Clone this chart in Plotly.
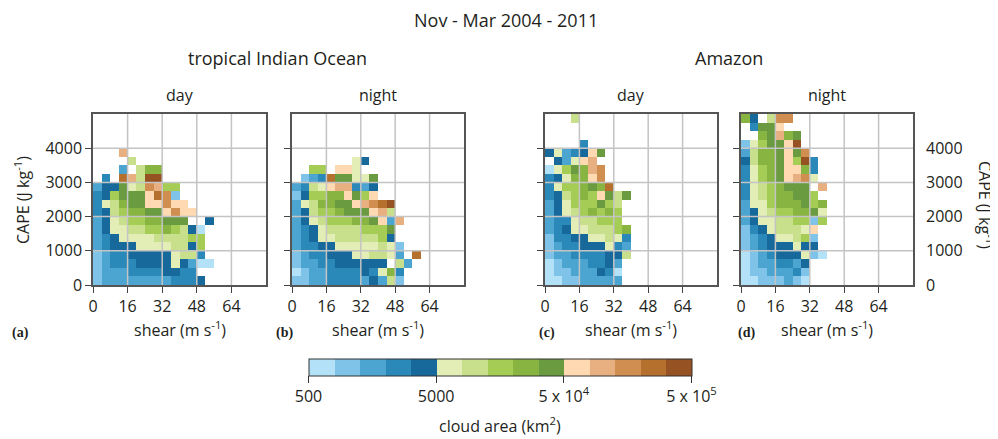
import math
import plotly.graph_objects as go

# ---------------- data ----------------
# shear bins (m s-1) and CAPE bins (J kg-1)
shear_edges = list(range(0, 84, 4))
cape_edges = list(range(0, 5250, 250))
shear_ticks = [0, 16, 32, 48, 64]
cape_ticks = [0, 1000, 2000, 3000, 4000]

# colour classes: 15 logarithmic classes of cloud area (km2), 500 .. 5e5
area_min, area_max = 500, 5e5
class_colors = ["#b3e2f8", "#7fc4e8", "#4ca5d1", "#2b89b9", "#17699b",
                "#e3edb6", "#c8df8c", "#a5cc55", "#88b441", "#6a9b40",
                "#fed9b1", "#e8b081", "#d18e51", "#b5702e", "#965223"]
cbar_tickvals = [500, 5000, 5e4, 5e5]
cbar_ticktext = ["500", "5000", "5 x 10<sup>4</sup>", "5 x 10<sup>5</sup>"]

# class index of each cell (top CAPE row first; '.' = no data; 1-9, a=10 .. f=15)
indian_day = [
    "", "", "", "",
    "...c",
    "....7",
    "...3.799",
    ".4.ec7ff",
    "355a67dc88",
    "458aaabed2",
    "4679aabbdbb",
    "457899aabdbb",
    "35678899aaa..5",
    "3566778898751",
    "3456666777788",
    "3455566667758",
    "2344555556774",
    "23444555565311",
    "233344445544",
    "2333333334445",
]
indian_night = [
    "", "", "", "", "",
    ".......65",
    "..88.bb6",
    ".234eaa66a",
    "3476bcc435",
    "258899ba8b",
    "36799aabcdef",
    "357889aaabc7",
    "356788899ab3c",
    "34567777888a",
    "345667777785",
    "3445566666762",
    "2344555667763.e",
    "23344555555.73",
    "1233444454694",
    "2233444435372",
]
amazon_day = [
    "...7",
    "", "",
    "....4",
    "56345ba",
    ".536bc",
    "168a9cd",
    "45699bd",
    "46889a9e",
    "457898ba7a",
    "356888a87",
    "356789898",
    "344677888",
    "3456677789",
    "2445566764",
    "2344555643",
    "2334444557",
    "123334453",
    "122333541",
    "112233333",
]
amazon_night = [
    "95.7dd",
    ".4aab",
    "..9ac9a",
    "268aabf",
    "3799abad",
    "5799ab8f4",
    "4689abb94",
    "4689abcd6",
    "46789aaa.c",
    "467899aa8",
    "3668999a89",
    "35678899a6",
    "3566778828",
    "24567776b",
    "234566782",
    "234555655",
    "1234555621",
    "12334435",
    "12233342",
    "11222321",
]

panels = [indian_day, indian_night, amazon_day, amazon_night]
panel_letters = ["(a)", "(b)", "(c)", "(d)"]
panel_titles = ["day", "night", "day", "night"]
region_titles = ["tropical Indian Ocean", "Amazon"]
main_title = "Nov - Mar 2004 - 2011"

# ---------------- layout helpers ----------------
# the page body has an 8 px margin, so the figure starts at (8, 8) of the window
OFF = 8
W, H = 998 - OFF, 439 - OFF
def px(x):
    return (x - OFF) / W
def py(y):
    return 1 - (y - OFF) / H

panel_px = [(93, 266), (292, 464), (545, 717), (741, 913)]
top_px, bot_px = 114, 285

lmin, lmax = math.log10(area_min), math.log10(area_max)
n_cls = len(class_colors)
cls_width = (lmax - lmin) / n_cls
colorscale = []
for k, c in enumerate(class_colors):
    colorscale.append([k / n_cls, c])
    colorscale.append([(k + 1) / n_cls, c])

shear_c = [(a + b) / 2 for a, b in zip(shear_edges[:-1], shear_edges[1:])]
cape_c = [(a + b) / 2 for a, b in zip(cape_edges[:-1], cape_edges[1:])]
nx = len(shear_c)

def to_z(rows):
    z = []
    for row in reversed(rows):
        r = row.ljust(nx, ".")
        line = []
        for ch in r:
            if ch == ".":
                line.append(None)
            else:
                k = int(ch, 16)
                line.append(lmin + (k - 0.5) * cls_width)
        z.append(line)
    return z

font_fam = "Open Sans, Noto Sans, sans-serif"
txt = "#231f20"

def note(x, y, text, size=16, angle=0, family=font_fam):
    fig.add_annotation(x=px(x), y=py(y), xref="paper", yref="paper", text=text,
                       xanchor="center", yanchor="middle", textangle=angle,
                       showarrow=False, font=dict(family=family, size=size, color=txt))

fig = go.Figure()
for n, rows in enumerate(panels):
    ax = "" if n == 0 else str(n + 1)
    fig.add_trace(go.Heatmap(
        x=shear_c, y=cape_c, z=to_z(rows),
        zmin=lmin, zmax=lmax, colorscale=colorscale,
        xaxis="x" + ax, yaxis="y" + ax, hoverongaps=False,
        showscale=(n == 0),
        colorbar=dict(
            orientation="h", x=px(500), xanchor="center",
            y=py(359), yanchor="top",
            len=383, lenmode="pixels", thickness=17, thicknessmode="pixels",
            xpad=0, ypad=0, outlinewidth=1, outlinecolor="#333",
            tickvals=[math.log10(v) for v in cbar_tickvals], ticktext=cbar_ticktext,
            ticks="outside", ticklen=7, tickcolor="#333",
            tickfont=dict(family=font_fam, size=16, color=txt),
        ),
    ))
    x0, x1 = panel_px[n]
    common = dict(showline=True, mirror=True, linecolor="#555", linewidth=1.5,
                  showgrid=False, zeroline=False, ticks="outside", ticklen=6,
                  tickcolor="#444", automargin=False,
                  tickfont=dict(family=font_fam, size=16, color=txt))
    fig.layout["xaxis" + ax] = dict(domain=[px(x0), px(x1)], range=[shear_edges[0], shear_edges[-1]],
                                     tickvals=shear_ticks, anchor="y" + ax, **common)
    fig.layout["yaxis" + ax] = dict(domain=[py(bot_px), py(top_px)], range=[cape_edges[0], cape_edges[-1]],
                                     tickvals=cape_ticks, anchor="x" + ax,
                                     showticklabels=(n == 0), **common)
    # grid lines drawn above the cells
    for t in shear_ticks[1:]:
        fig.add_shape(type="line", xref="x" + ax, yref="y" + ax + " domain",
                      x0=t, x1=t, y0=0, y1=1, line=dict(color="#c4c4c4", width=1.5), layer="above")
    for t in cape_ticks[1:]:
        fig.add_shape(type="line", xref="x" + ax + " domain", yref="y" + ax,
                      x0=0, x1=1, y0=t, y1=t, line=dict(color="#c4c4c4", width=1.5), layer="above")
    xc = (x0 + x1) / 2
    note(xc, 95, panel_titles[n])
    note(xc, 329, "shear (m s<sup>-1</sup>)")

letter_x = [20, 284, 547, 746]
for n, lx in enumerate(letter_x):
    note(lx, 333, "<b>" + panel_letters[n] + "</b>", size=14, family="Liberation Serif, serif")

# right-hand CAPE axis of panel (d)
fig.add_trace(go.Scatter(x=[None], y=[None], xaxis="x4", yaxis="y5", showlegend=False, hoverinfo="skip"))
fig.layout["yaxis5"] = dict(domain=[py(bot_px), py(top_px)], range=[cape_edges[0], cape_edges[-1]],
                            tickvals=cape_ticks, overlaying="y4", side="right", anchor="x4",
                            showgrid=False, zeroline=False, showline=False, ticks="",
                            ticklabelstandoff=12, automargin=False,
                            tickfont=dict(family=font_fam, size=16, color=txt))

# titles
note(506, 20, main_title, size=18)
note(277, 58, region_titles[0], size=18)
note(729, 58, region_titles[1], size=18)
note(22, 200, "CAPE (J kg<sup>-1</sup>)", angle=-90)
note(986, 205, "CAPE (J kg<sup>-1</sup>)", angle=90)
note(500, 425, "cloud area (km<sup>2</sup>)")

fig.update_layout(width=W, height=H, margin=dict(l=0, r=0, t=0, b=0, autoexpand=False),
                  paper_bgcolor="white", plot_bgcolor="white", showlegend=False)

fig.write_html("out.html")
